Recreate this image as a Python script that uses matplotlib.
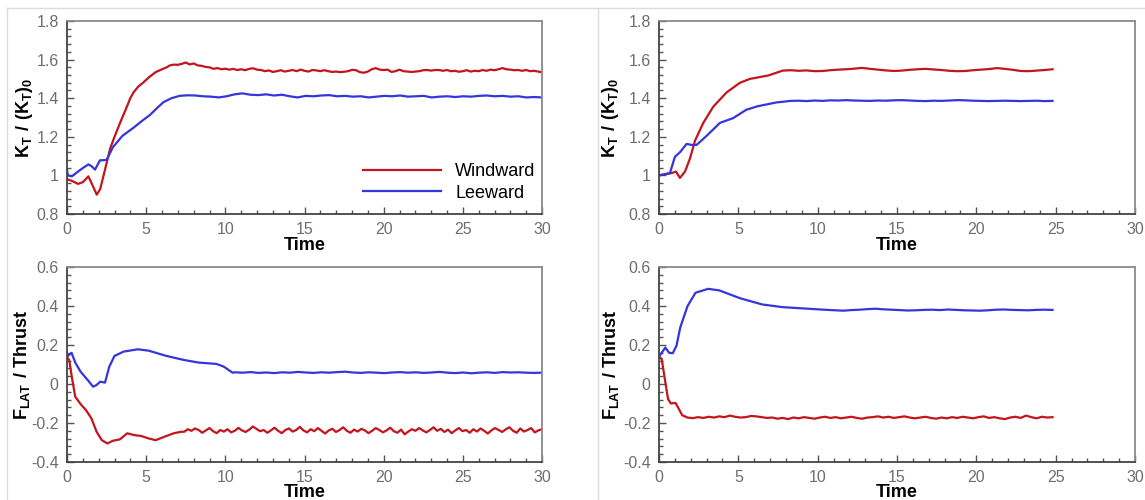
import numpy as np
import matplotlib
matplotlib.use("Agg")
import matplotlib.pyplot as plt
from matplotlib.ticker import MultipleLocator, AutoMinorLocator, FormatStrFormatter
from matplotlib.lines import Line2D

plt.rcParams['font.family'] = ['Liberation Sans', 'DejaVu Sans']
plt.rcParams['mathtext.fontset'] = 'custom'
plt.rcParams['mathtext.rm'] = 'Liberation Sans'
plt.rcParams['mathtext.bf'] = 'Liberation Sans:bold'

RED = '#c4141c'
BLUE = '#3535dc'

# ---------- left column, K_T / (K_T)_0 ----------
kt_a_wind_t = [0, 0.3, 0.7, 1.0, 1.35, 1.55, 1.88, 2.1, 2.4, 2.72, 3.0, 3.35, 3.7, 4.0,
               4.2, 4.5, 4.8, 5.2, 5.6, 6.0, 6.3]
kt_a_wind_v = [0.98, 0.972, 0.956, 0.965, 0.995, 0.96, 0.90, 0.93, 1.03, 1.138, 1.20, 1.272,
               1.34, 1.40, 1.43, 1.46, 1.48, 1.51, 1.535, 1.55, 1.56]
kt_a_wind_steady = [
    1.570, 1.574, 1.573, 1.578, 1.585, 1.575, 1.580, 1.570, 1.568, 1.562,
    1.560, 1.552, 1.556, 1.550, 1.553, 1.548, 1.552, 1.546, 1.550, 1.545,
    1.552, 1.555, 1.548, 1.546, 1.540, 1.544, 1.536, 1.540, 1.545, 1.538,
    1.542, 1.546, 1.540, 1.548, 1.542, 1.538, 1.546, 1.544, 1.540, 1.545,
    1.540, 1.536, 1.538, 1.535, 1.537, 1.540, 1.547, 1.545, 1.535, 1.532,
    1.538, 1.550, 1.556, 1.548, 1.546, 1.548, 1.536, 1.540, 1.548, 1.540,
    1.538, 1.536, 1.538, 1.540, 1.545, 1.546, 1.543, 1.546, 1.546, 1.542,
    1.546, 1.540, 1.542, 1.537, 1.540, 1.545, 1.538, 1.542, 1.540, 1.546,
    1.542, 1.548, 1.545, 1.550, 1.556, 1.550, 1.548, 1.545, 1.546, 1.542,
    1.546, 1.540, 1.542, 1.538, 1.535]

kt_a_lee_t = [0, 0.05, 0.3, 0.7, 1.0, 1.35, 1.55, 1.77, 2.08, 2.5, 2.9, 3.5, 4.2, 4.7,
              5.25, 5.7, 6.1, 6.6]
kt_a_lee_v = [1.03, 1.0, 0.995, 1.02, 1.038, 1.057, 1.048, 1.03, 1.078, 1.08, 1.146, 1.205,
              1.247, 1.28, 1.314, 1.35, 1.38, 1.40]
kt_a_lee_steady = [
    1.412, 1.415, 1.414, 1.410, 1.408, 1.404, 1.410, 1.420, 1.425, 1.418,
    1.416, 1.420, 1.414, 1.418, 1.410, 1.404, 1.412, 1.410, 1.414, 1.416,
    1.410, 1.412, 1.408, 1.410, 1.404, 1.408, 1.412, 1.410, 1.414, 1.408,
    1.410, 1.412, 1.404, 1.408, 1.410, 1.406, 1.410, 1.408, 1.412, 1.414,
    1.410, 1.412, 1.408, 1.410, 1.404, 1.406, 1.404]

# ---------- left column, F_LAT / Thrust ----------
fl_a_wind_t = [0, 0.14, 0.3, 0.52, 0.86, 1.2, 1.54, 1.87, 2.2, 2.55, 2.9, 3.34, 3.8, 4.25,
               4.7, 5.15, 5.6, 6.17, 6.73, 7.2]
fl_a_wind_v = [0.137, 0.123, 0.038, -0.065, -0.103, -0.134, -0.176, -0.245, -0.288, -0.305,
               -0.291, -0.284, -0.253, -0.262, -0.267, -0.279, -0.288, -0.27, -0.253, -0.245]
fl_a_wind_steady = [
    -0.245, -0.232, -0.240, -0.228, -0.236, -0.250, -0.238, -0.226, -0.242, -0.252,
    -0.236, -0.244, -0.232, -0.248, -0.240, -0.225, -0.238, -0.246, -0.234, -0.218,
    -0.230, -0.242, -0.236, -0.250, -0.238, -0.224, -0.240, -0.252, -0.236, -0.228,
    -0.244, -0.236, -0.220, -0.238, -0.248, -0.232, -0.242, -0.226, -0.240, -0.254,
    -0.238, -0.230, -0.246, -0.236, -0.222, -0.240, -0.250, -0.234, -0.244, -0.230,
    -0.238, -0.252, -0.240, -0.226, -0.236, -0.248, -0.238, -0.224, -0.242, -0.250,
    -0.234, -0.258, -0.244, -0.232, -0.240, -0.226, -0.238, -0.248, -0.236, -0.222,
    -0.240, -0.230, -0.246, -0.234, -0.252, -0.238, -0.226, -0.242, -0.236, -0.250,
    -0.232, -0.244, -0.228, -0.240, -0.254, -0.238, -0.226, -0.236, -0.246, -0.232,
    -0.222, -0.240, -0.250, -0.228, -0.244, -0.236, -0.226, -0.248, -0.238, -0.232]

fl_a_lee_t = [0, 0.29, 0.52, 0.86, 1.31, 1.65, 1.87, 2.1, 2.4, 2.67, 3.0, 3.57, 4.47, 5.15,
              6.28, 7.4, 8.3, 9.44, 9.9, 10.46]
fl_a_lee_v = [0.14, 0.16, 0.11, 0.063, 0.02, -0.014, -0.005, 0.012, 0.007, 0.089, 0.144,
              0.166, 0.178, 0.171, 0.144, 0.123, 0.11, 0.103, 0.089, 0.058]
fl_a_lee_steady = [
    0.060, 0.058, 0.061, 0.057, 0.059, 0.056, 0.060, 0.058, 0.062, 0.059,
    0.057, 0.060, 0.058, 0.061, 0.063, 0.059, 0.057, 0.060, 0.058, 0.056,
    0.059, 0.061, 0.058, 0.060, 0.057, 0.059, 0.062, 0.058, 0.056, 0.059,
    0.055, 0.058, 0.060, 0.057, 0.061, 0.059, 0.060, 0.058, 0.057, 0.058]

# ---------- right column, K_T / (K_T)_0 ----------
kt_b_wind_t = [0, 0.8, 1.07, 1.32, 1.64, 1.95, 2.27, 2.79, 3.42, 4.26, 5.1, 5.73, 6.9]
kt_b_wind_v = [1.0, 1.012, 1.02, 0.987, 1.02, 1.087, 1.18, 1.272, 1.356, 1.43, 1.48, 1.50,
               1.518]
kt_b_wind_steady = [
    1.543, 1.545, 1.542, 1.544, 1.540, 1.541, 1.545, 1.548, 1.550, 1.553,
    1.557, 1.552, 1.548, 1.544, 1.541, 1.543, 1.547, 1.550, 1.552, 1.549,
    1.546, 1.542, 1.540, 1.541, 1.545, 1.548, 1.551, 1.556, 1.552, 1.547,
    1.541, 1.540, 1.543, 1.546, 1.550]

kt_b_lee_t = [0, 0.69, 1.0, 1.32, 1.74, 2.06, 2.37, 3.0, 3.84, 4.68, 5.5, 6.2, 7.4]
kt_b_lee_v = [1.0, 1.012, 1.096, 1.12, 1.163, 1.158, 1.158, 1.205, 1.272, 1.297, 1.34,
              1.358, 1.378]
kt_b_lee_steady = [
    1.386, 1.387, 1.385, 1.388, 1.386, 1.389, 1.388, 1.390, 1.388, 1.387,
    1.386, 1.388, 1.387, 1.389, 1.390, 1.388, 1.386, 1.385, 1.387, 1.386,
    1.388, 1.390, 1.389, 1.387, 1.386, 1.385, 1.386, 1.387, 1.386, 1.385,
    1.386, 1.387, 1.385, 1.386]

# ---------- right column, F_LAT / Thrust ----------
fl_b_wind_t = [0, 0.17, 0.4, 0.57, 0.75, 1.04, 1.2, 1.46]
fl_b_wind_v = [0.14, 0.128, 0.009, -0.077, -0.10, -0.097, -0.12, -0.16]
fl_b_wind_steady = [
    -0.172, -0.175, -0.170, -0.174, -0.168, -0.172, -0.166, -0.170, -0.162, -0.168,
    -0.172, -0.170, -0.164, -0.166, -0.170, -0.174, -0.172, -0.178, -0.174, -0.180,
    -0.172, -0.176, -0.170, -0.174, -0.178, -0.172, -0.168, -0.174, -0.170, -0.176,
    -0.172, -0.168, -0.174, -0.178, -0.172, -0.170, -0.166, -0.172, -0.168, -0.174,
    -0.170, -0.166, -0.172, -0.176, -0.172, -0.168, -0.174, -0.178, -0.172, -0.176,
    -0.170, -0.174, -0.168, -0.172, -0.176, -0.170, -0.166, -0.174, -0.170, -0.176,
    -0.180, -0.172, -0.168, -0.174, -0.162, -0.170, -0.176, -0.168, -0.172, -0.170]

fl_b_lee_t = [0, 0.4, 0.64, 0.87, 1.1, 1.34, 1.8, 2.3, 3.1, 3.8, 5.1, 6.5, 7.8, 10.2]
fl_b_lee_v = [0.14, 0.187, 0.16, 0.158, 0.196, 0.29, 0.40, 0.468, 0.488, 0.48, 0.44, 0.408,
              0.394, 0.382]
fl_b_lee_steady = [
    0.380, 0.378, 0.376, 0.379, 0.381, 0.384, 0.386, 0.383, 0.381, 0.379,
    0.377, 0.378, 0.380, 0.381, 0.379, 0.382, 0.380, 0.378, 0.377, 0.376,
    0.378, 0.381, 0.382, 0.380, 0.379, 0.378, 0.380, 0.381, 0.380]


def series(t_early, v_early, steady, t0, t1):
    t = np.concatenate([t_early, np.linspace(t0, t1, len(steady))])
    v = np.concatenate([v_early, steady])
    return t, v


def style_axes(ax, ylim, ystep, ylabel, ylab_x):
    ax.set_xlim(0, 30)
    ax.set_ylim(*ylim)
    ax.xaxis.set_major_locator(MultipleLocator(5))
    ax.xaxis.set_minor_locator(MultipleLocator(1))
    ax.yaxis.set_major_locator(MultipleLocator(ystep))
    ax.yaxis.set_minor_locator(AutoMinorLocator(5))
    ax.yaxis.set_major_formatter(FormatStrFormatter('%g'))
    ax.tick_params(which='both', direction='in', top=False, right=False,
                   color='#555555', labelcolor='#6e6e6e', labelsize=11.5, pad=6)
    ax.tick_params(which='major', length=5, width=1)
    ax.tick_params(which='minor', length=3, width=1)
    for s in ('left', 'bottom'):
        ax.spines[s].set_color('#444444')
        ax.spines[s].set_linewidth(1.3)
    for s in ('top', 'right'):
        ax.spines[s].set_color('#8a8a8a')
        ax.spines[s].set_linewidth(1.3)
    ax.set_xlabel('Time', fontsize=13, fontweight='bold')
    ax.set_ylabel(ylabel, fontsize=13)
    ax.yaxis.set_label_coords(ylab_x, 0.5)


fig = plt.figure(figsize=(11.45, 5.0), dpi=100)

# light frame lines around the two panels
for ln in [Line2D([7 / 1145, 1], [1 - 8 / 500, 1 - 8 / 500]),
           Line2D([7 / 1145, 7 / 1145], [0, 1 - 8 / 500]),
           Line2D([598 / 1145, 598 / 1145], [0, 1 - 8 / 500])]:
    ln.set_color('#dcdcdc')
    ln.set_linewidth(1.0)
    fig.add_artist(ln)

ax1 = fig.add_axes([67 / 1145, 1 - 214 / 500, 475 / 1145, 193 / 500])
ax2 = fig.add_axes([67 / 1145, 1 - 462 / 500, 475 / 1145, 195 / 500])
ax3 = fig.add_axes([659 / 1145, 1 - 214 / 500, 476 / 1145, 193 / 500])
ax4 = fig.add_axes([659 / 1145, 1 - 462 / 500, 476 / 1145, 195 / 500])

kt_label = r'$\mathbf{K_T\ /\ (K_T)_0}$'
fl_label = r'$\mathbf{F_{LAT}\ /\ Thrust}$'

# left top
t, v = series(kt_a_wind_t, kt_a_wind_v, kt_a_wind_steady, 6.5, 30)
ax1.plot(t, v, color=RED, lw=1.6, label='Windward')
t, v = series(kt_a_lee_t, kt_a_lee_v, kt_a_lee_steady, 7.1, 30)
ax1.plot(t, v, color=BLUE, lw=1.6, label='Leeward')
style_axes(ax1, (0.8, 1.8), 0.2, kt_label, -0.067)
ax1.legend(loc='center left', bbox_to_anchor=(363 / 1145, 1 - 182.5 / 500),
           bbox_transform=fig.transFigure, frameon=False, fontsize=13,
           handlelength=4.3, handletextpad=0.8, labelspacing=0.25,
           borderpad=0, borderaxespad=0)

# left bottom
t, v = series(fl_a_wind_t, fl_a_wind_v, fl_a_wind_steady, 7.4, 30)
ax2.plot(t, v, color=RED, lw=1.6)
t, v = series(fl_a_lee_t, fl_a_lee_v, fl_a_lee_steady, 10.6, 30)
ax2.plot(t, v, color=BLUE, lw=1.6)
style_axes(ax2, (-0.4, 0.6), 0.2, fl_label, -0.074)

# right top
t, v = series(kt_b_wind_t, kt_b_wind_v, kt_b_wind_steady, 7.8, 24.8)
ax3.plot(t, v, color=RED, lw=1.6)
t, v = series(kt_b_lee_t, kt_b_lee_v, kt_b_lee_steady, 8.3, 24.8)
ax3.plot(t, v, color=BLUE, lw=1.6)
style_axes(ax3, (0.8, 1.8), 0.2, kt_label, -0.080)

# right bottom
t, v = series(fl_b_wind_t, fl_b_wind_v, fl_b_wind_steady, 1.8, 24.8)
ax4.plot(t, v, color=RED, lw=1.6)
t, v = series(fl_b_lee_t, fl_b_lee_v, fl_b_lee_steady, 10.6, 24.8)
ax4.plot(t, v, color=BLUE, lw=1.6)
style_axes(ax4, (-0.4, 0.6), 0.2, fl_label, -0.080)

for ax in (ax1, ax3):
    ax.xaxis.set_label_coords(0.5, -0.119)
for ax in (ax2, ax4):
    ax.xaxis.set_label_coords(0.5, -0.113)

fig.savefig('out.png', dpi=100)
